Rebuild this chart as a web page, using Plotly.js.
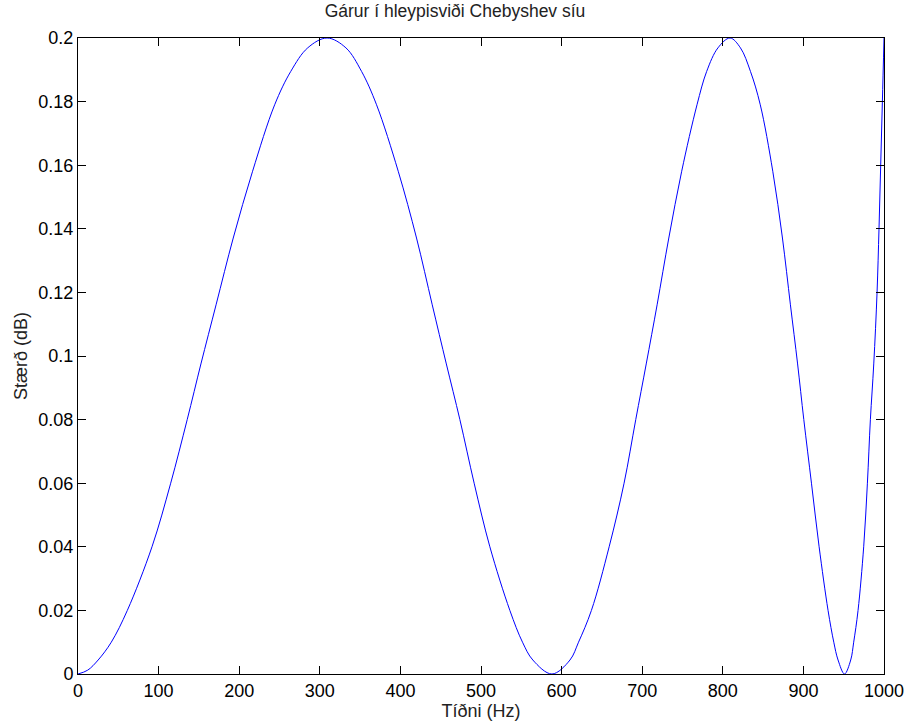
<!DOCTYPE html>
<html>
<head>
<meta charset="utf-8">
<script src="https://cdn.plot.ly/plotly-3.0.1.min.js"></script>
<style>html,body{margin:0;padding:0;background:#fff;}#chart{width:910px;height:726px;}</style>
</head>
<body>
<div id="chart"></div>
<script>
// Frequency (Hz)
const freqHz = [0, 12, 25, 41.3, 61.2, 91.8, 115, 135.5, 152.5, 171.3, 192.6, 216.6, 244, 264, 285, 309, 332.4, 351.8, 370.4, 397.3, 420, 439.5, 457, 473.8, 491.5, 511, 535.8, 551.5, 564.3, 588, 610.4, 621, 637, 659, 677.5, 692, 705, 718.5, 733, 749, 768, 780, 794, 809, 821.9, 834.3, 846.5, 862, 874, 883.9, 892.8, 900.5, 910, 919.5, 930.6, 937.7, 943, 951, 958.7, 962.4, 967.8, 974.8, 979.4, 983.1, 987.3, 991.4, 993.8, 995.9, 998, 1000];
// Ripple magnitude (dB)
const rippleDb = [0, 0.0012, 0.0044, 0.01, 0.02, 0.04, 0.06, 0.08, 0.0975, 0.1161, 0.1371, 0.1581, 0.179, 0.1895, 0.1969, 0.2, 0.1969, 0.1895, 0.179, 0.1581, 0.1371, 0.1161, 0.0975, 0.08, 0.06, 0.04, 0.02, 0.01, 0.0044, 0, 0.0044, 0.01, 0.02, 0.04, 0.06, 0.08, 0.0975, 0.1161, 0.1371, 0.1581, 0.179, 0.1895, 0.1969, 0.2, 0.1969, 0.1895, 0.179, 0.1581, 0.1371, 0.1161, 0.0975, 0.08, 0.06, 0.04, 0.02, 0.01, 0.0044, 0, 0.0044, 0.01, 0.02, 0.04, 0.06, 0.08, 0.0975, 0.1201, 0.14, 0.16, 0.18, 0.2];
const xTicks = [0, 100, 200, 300, 400, 500, 600, 700, 800, 900, 1000];
const yTicks = [0, 0.02, 0.04, 0.06, 0.08, 0.1, 0.12, 0.14, 0.16, 0.18, 0.2];
const yTickText = ['0', '0.02', '0.04', '0.06', '0.08', '0.1', '0.12', '0.14', '0.16', '0.18', '0.2'];

const font = 'Liberation Sans, Arial, Helvetica, sans-serif';
const trace = {
  x: freqHz, y: rippleDb, type: 'scatter', mode: 'lines',
  line: {color: '#0000ff', width: 1, shape: 'spline', smoothing: 1},
  hoverinfo: 'skip', cliponaxis: true
};
const axisCommon = {
  showgrid: false, zeroline: false, showline: true, linecolor: '#000', linewidth: 1,
  mirror: 'ticks', ticks: 'inside', ticklen: 8, tickcolor: '#000', tickwidth: 1,
  tickfont: {family: font, size: 18, color: '#000'}
};
const layout = {
  width: 910, height: 726,
  margin: {l: 78, r: 26, t: 38, b: 52},
  paper_bgcolor: '#fff', plot_bgcolor: '#fff',
  showlegend: false,
  title: {text: 'Gárur í hleypisviði Chebyshev síu', font: {family: font, size: 17.5, color: '#222'}, x: 0.5, xanchor: 'center', y: 0.985, yanchor: 'middle'},
  xaxis: Object.assign({}, axisCommon, {range: [0, 1000], tickvals: xTicks, ticktext: xTicks.map(String),
    title: {text: 'Tíðni (Hz)', font: {family: font, size: 18, color: '#222'}, standoff: 2}}),
  yaxis: Object.assign({}, axisCommon, {range: [0, 0.2], tickvals: yTicks, ticktext: yTickText,
    title: {text: 'Stærð (dB)', font: {family: font, size: 18, color: '#222'}, standoff: 6}})
};
Plotly.newPlot('chart', [trace], layout, {displayModeBar: false, staticPlot: true});
</script>
</body>
</html>
